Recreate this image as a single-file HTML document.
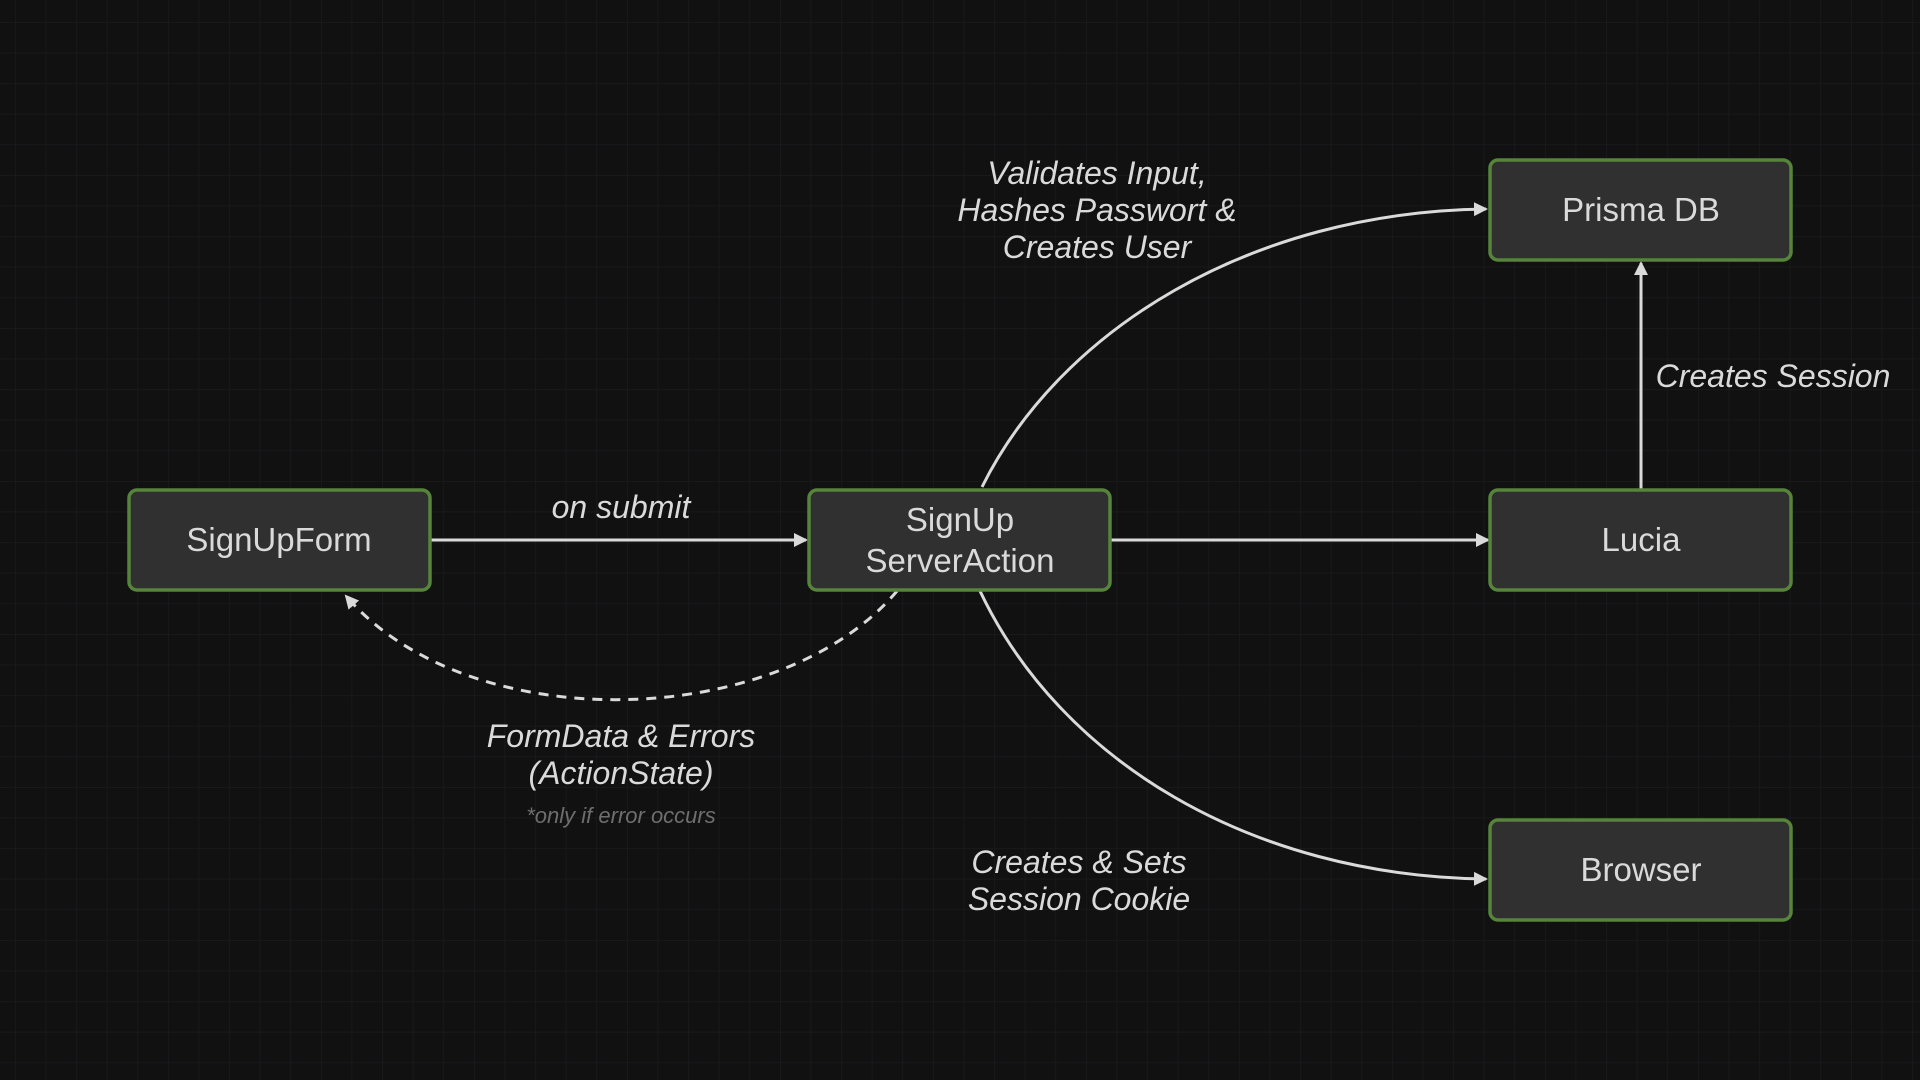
<!DOCTYPE html>
<html><head><meta charset="utf-8"><style>
html,body{margin:0;padding:0;background:#111112;}
svg{display:block}
text{font-family:"Liberation Sans",sans-serif;fill:#dadada}
</style></head><body>
<svg width="1920" height="1080" viewBox="0 0 1920 1080" xmlns="http://www.w3.org/2000/svg">
<defs>
<pattern id="g" width="30.6" height="30.6" patternUnits="userSpaceOnUse" x="15" y="22">
<path d="M0 0H30.6M0 0V30.6" stroke="#1d1d1f" stroke-width="1.2" fill="none"/>
</pattern>
<marker id="a" markerWidth="14" markerHeight="14" refX="12" refY="7" orient="auto" markerUnits="userSpaceOnUse">
<path d="M0,0 L14,7 L0,14 z" fill="#dadada"/>
</marker>
</defs>
<rect width="1920" height="1080" fill="#111112"/>
<rect width="1920" height="1080" fill="url(#g)"/>

<g stroke="#dadada" stroke-width="3" fill="none">
<path d="M430,540 L806,540" marker-end="url(#a)"/>
<path d="M1110,540 L1488,540" marker-end="url(#a)"/>
<path d="M1641,490 L1641,263" marker-end="url(#a)"/>
<path d="M982,487 C1060,330 1250,212 1486,209" marker-end="url(#a)"/>
<path d="M980,591 C1060,760 1250,876 1486,879" marker-end="url(#a)"/>
<path d="M897,591 C780,730 470,740 346,596" stroke-dasharray="10,8" marker-end="url(#a)"/>
</g>

<g stroke="#55843a" stroke-width="3.5" fill="#303030">
<rect x="129" y="490" width="301" height="100" rx="8"/>
<rect x="809" y="490" width="301" height="100" rx="8"/>
<rect x="1490" y="490" width="301" height="100" rx="8"/>
<rect x="1490" y="160" width="301" height="100" rx="8"/>
<rect x="1490" y="820" width="301" height="100" rx="8"/>
</g>

<g font-size="33" text-anchor="middle">
<text x="279" y="551">SignUpForm</text>
<text x="960" y="531">SignUp</text>
<text x="960" y="572">ServerAction</text>
<text x="1641" y="551">Lucia</text>
<text x="1641" y="221">Prisma DB</text>
<text x="1641" y="881">Browser</text>
</g>

<g font-size="32" font-style="italic" text-anchor="middle">
<text x="621" y="518">on submit</text>
<text x="1097" y="184">Validates Input,</text>
<text x="1097" y="221">Hashes Passwort &amp;</text>
<text x="1097" y="258">Creates User</text>
<text x="621" y="747">FormData &amp; Errors</text>
<text x="621" y="784">(ActionState)</text>
<text x="1079" y="873">Creates &amp; Sets</text>
<text x="1079" y="910">Session Cookie</text>
<text x="1773" y="387">Creates Session</text>
</g>
<text x="621" y="823" font-size="22" font-style="italic" text-anchor="middle" style="fill:#6e6e6e">*only if error occurs</text>
</svg>
</body></html>
